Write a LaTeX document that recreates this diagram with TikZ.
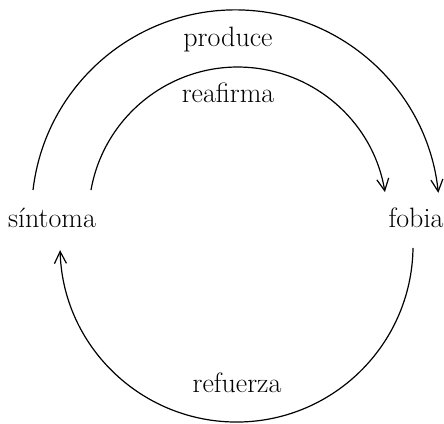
\documentclass[tikz,border=0pt]{standalone}
\usepackage{tikz}
\usetikzlibrary{arrows.meta}

\begin{document}
\begin{tikzpicture}[x=1pt,y=1pt]
\tikzstyle{palabra}=[inner sep=0pt,outer sep=0pt,anchor=base,font=\fontsize{28}{32}\selectfont]
\tikzstyle{flecha}=[line width=1.2pt,-{Straight Barb[length=12pt,width=12pt,line width=1.2pt]}]

	\useasboundingbox (0,0) rectangle (444,423);

	\node (sintoma) [palabra] at (52,195) {síntoma};
	\node (fobia) [palabra] at (416,195) {fobia};

	\node (produce) [palabra] at (228,376) {produce};
	\node (reafirma) [palabra] at (228,320) {reafirma};
	\node (refuerza) [palabra] at (237,31) {refuerza};

	% arcos de arriba
	\draw [flecha] ([shift={(-19,38)}]sintoma.base) arc[start angle=173.3, end angle=5.9, radius=203.9];
	\draw [flecha] ([shift={(39,38)}]sintoma.base) arc[start angle=169.9, end angle=9.3, radius=149.1];

	% arco de abajo
	\draw [flecha] ([shift={(-3,-20)}]fobia.base) arc[start angle=-0.8, end angle=-178.5, radius=176.5];

\end{tikzpicture}
\end{document}
